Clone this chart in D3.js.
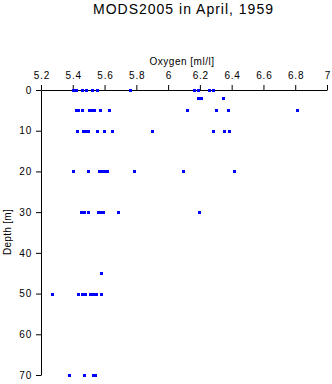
<!DOCTYPE html>
<html><head><meta charset="utf-8">
<script src="https://cdn.jsdelivr.net/npm/d3@7"></script>
<style>
html,body{margin:0;padding:0;background:#fff;}
svg{display:block;font-family:"Liberation Sans",Arial,Helvetica,sans-serif;}
</style></head>
<body>
<svg id="chart" width="332" height="384"></svg>
<script>
const title = "MODS2005 in April, 1959";
const xLabel = "Oxygen [ml/l]";
const yLabel = "Depth [m]";
const xTicks = [5.2,5.4,5.6,5.8,6,6.2,6.4,6.6,6.8,7];
const yTicks = [0,10,20,30,40,50,60,70];
const depths = [0,2,5,10,20,30,45,50,70];
const oxygen = [
  [5.40,5.42,5.455,5.485,5.52,5.55,5.76,6.16,6.19,6.26,6.28],
  [6.185,6.21,6.345],
  [5.42,5.43,5.455,5.505,5.52,5.535,5.574,5.627,6.118,6.304,6.38,6.81],
  [5.427,5.467,5.475,5.495,5.555,5.596,5.646,5.898,6.285,6.354,6.382],
  [5.404,5.498,5.567,5.586,5.605,5.618,5.788,6.093,6.414],
  [5.451,5.47,5.498,5.558,5.577,5.593,5.687,6.194],
  [5.577],
  [5.269,5.432,5.457,5.476,5.508,5.527,5.545,5.577],
  [5.379,5.47,5.527,5.54]
];

const svg = d3.select("#chart");
const x = d3.scaleLinear().domain([5.2,7]).range([41,327]);
const y = d3.scaleLinear().domain([0,70]).range([90,375]);

svg.append("text").attr("x",183.5).attr("y",14).attr("text-anchor","middle")
  .attr("font-size",14).attr("letter-spacing","1px").attr("fill","#000").text(title);

const gx = svg.append("g").attr("transform","translate(0,90)")
  .call(d3.axisTop(x).tickValues(xTicks).tickFormat(d3.format("")).tickSize(5).tickSizeOuter(0).tickPadding(6));
const gy = svg.append("g").attr("transform","translate(41,0)")
  .call(d3.axisLeft(y).tickValues(yTicks).tickSize(5).tickSizeOuter(0).tickPadding(4));
[gx,gy].forEach(g=>{
  g.selectAll("text").attr("font-size",10).attr("letter-spacing","0.8px").attr("fill","#000").attr("font-family","Liberation Sans, Arial, sans-serif");
  g.selectAll("line,path").attr("stroke","#000");
});
gx.selectAll("text").attr("dx","0.4px");

svg.append("text").attr("x",182).attr("y",65).attr("text-anchor","middle")
  .attr("font-size",10).attr("letter-spacing","0.5px").attr("fill","#000").text(xLabel);
svg.append("text").attr("transform","translate(11,232) rotate(-90)").attr("text-anchor","middle")
  .attr("font-size",10).attr("letter-spacing","0.3px").attr("fill","#000").text(yLabel);

const pts = [];
depths.forEach((d,i)=>oxygen[i].forEach(v=>pts.push({d,v})));
svg.append("g").selectAll("rect").data(pts).join("rect")
  .attr("x",p=>Math.round(x(p.v))-1).attr("y",p=>Math.round(y(p.d))-1)
  .attr("width",3).attr("height",3).attr("fill","#0000ff");
</script>
</body></html>
